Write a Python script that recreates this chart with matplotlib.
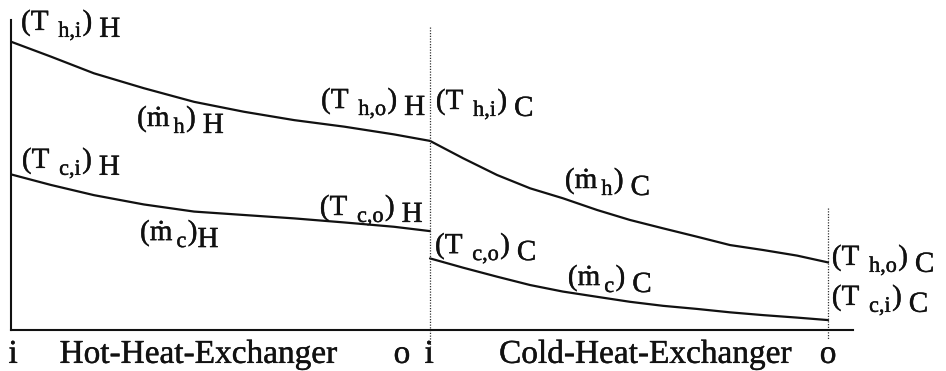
import matplotlib
matplotlib.use("Agg")
import matplotlib.pyplot as plt
import matplotlib.patheffects as pe

# Position along each exchanger (hot: 0..1, cold: 1..1.95) and temperatures (arbitrary units)
hot_h_pos = [0.0, 0.095, 0.198, 0.317, 0.437, 0.556, 0.676, 0.795, 0.914, 1.0]
hot_h_temp = [93.0, 88.2, 82.8, 78.0, 73.6, 70.4, 67.7, 65.6, 63.1, 61.0]
hot_c_pos = [0.0, 0.095, 0.198, 0.317, 0.437, 0.556, 0.676, 0.795, 0.914, 1.0]
hot_c_temp = [50.2, 46.8, 43.5, 40.5, 38.2, 37.1, 36.0, 34.7, 33.3, 31.9]
cold_pos = [1.0, 1.079, 1.160, 1.239, 1.317, 1.399, 1.477, 1.556, 1.637,
            1.716, 1.795, 1.876, 1.95]
cold_h_temp = [61.0, 55.4, 50.0, 45.7, 42.5, 38.7, 35.5, 32.8, 30.1,
               27.4, 25.8, 24.0, 21.8]
cold_c_temp = [23.1, 20.1, 17.2, 14.5, 12.4, 10.7, 9.1, 7.8, 6.8,
               5.7, 4.8, 4.0, 3.2]

hot_outlet = 1.0
cold_outlet = 1.95

bottom_labels = ["i", "Hot-Heat-Exchanger", "o", "i", "Cold-Heat-Exchanger", "o"]
bottom_pos = [0.005, 0.4475, 0.933, 0.998, 1.514, 1.95]

INK = "#111111"
FAM = ["Liberation Serif", "DejaVu Serif"]
FS = 21.0      # main label size
SUB = 16.0     # subscript size
DROP = 5.0     # subscript drop (points)
FS_AXIS = 24.0
HEAVY = [pe.withStroke(linewidth=0.3, foreground=INK)]

fig = plt.figure(figsize=(9.46, 3.71), dpi=100)
ax = fig.add_axes([11 / 946, 41 / 371, 842 / 946, 310 / 371])
ax.set_xlim(0, 2.0095)
ax.set_ylim(0, 100)
for side in ("top", "right"):
    ax.spines[side].set_visible(False)
for side in ("left", "bottom"):
    ax.spines[side].set_linewidth(1.5)
    ax.spines[side].set_color(INK)
ax.set_xticks([])
ax.set_yticks([])

lw = 1.6
ax.plot(hot_h_pos, hot_h_temp, color=INK, lw=lw, solid_capstyle="round")
ax.plot(hot_c_pos, hot_c_temp, color=INK, lw=lw, solid_capstyle="round")
ax.plot(cold_pos, cold_h_temp, color=INK, lw=lw, solid_capstyle="round")
ax.plot(cold_pos, cold_c_temp, color=INK, lw=lw, solid_capstyle="round")

# dotted separators at the exchanger outlets
ax.plot([hot_outlet, hot_outlet], [97.7, -5.5], color="#333333", lw=0.9,
        ls=(0, (1, 1.2)), clip_on=False)
ax.plot([cold_outlet, cold_outlet], [39.4, -3.2], color="#333333", lw=0.9,
        ls=(0, (1, 1.2)), clip_on=False)

renderer = fig.canvas.get_renderer()


def label(x, y, parts):
    """Draw a label made of pieces: (text, role) tuples or numeric gaps in points.
    role 'm' = main, 's' = small lowered subscript, 'M' = full-size lowered."""
    dx = 0.0
    for p in parts:
        if isinstance(p, (int, float)):
            dx += p
            continue
        txt, role = p
        fs = SUB if role == "s" else FS
        dy = -DROP if role in ("s", "M") else 0.0
        t = ax.annotate(txt, (x, y), xytext=(dx, dy), textcoords="offset points",
                        fontsize=fs, family=FAM, ha="left", va="baseline",
                        color=INK, annotation_clip=False, path_effects=HEAVY)
        bb = t.get_window_extent(renderer)
        dx += bb.width * 72.0 / fig.dpi


def temp_label(x, y, sub, side):
    label(x, y, [("(T", "m"), 7, (sub, "s"), 1, (")", "m"), 5, (side, "M")])


def flow_label(x, y, sub, side, gap=5):
    label(x, y, [("(ṁ", "m"), 3, (sub, "s"), 1, (")", "m"), gap, (side, "M")])


temp_label(0.024, 96.8, "h,i", "H")
flow_label(0.301, 65.8, "h", "H")
temp_label(0.740, 71.6, "h,o", "H")
temp_label(1.014, 71.3, "h,i", "C")
temp_label(0.026, 52.3, "c,i", "H")
temp_label(0.737, 37.1, "c,o", "H")
flow_label(0.308, 29.0, "c", "H", gap=0)
temp_label(1.012, 24.8, "c,o", "C")
flow_label(1.322, 45.8, "h", "C")
flow_label(1.329, 14.5, "c", "C")
temp_label(1.959, 21.0, "h,o", "C")
temp_label(1.959, 8.1, "c,i", "C")

for txt, xp in zip(bottom_labels, bottom_pos):
    ax.text(xp, -10.6, txt, fontsize=FS_AXIS, family=FAM, ha="center",
            va="baseline", color=INK, clip_on=False, path_effects=HEAVY)

fig.savefig("out.png", dpi=100, facecolor="white")
